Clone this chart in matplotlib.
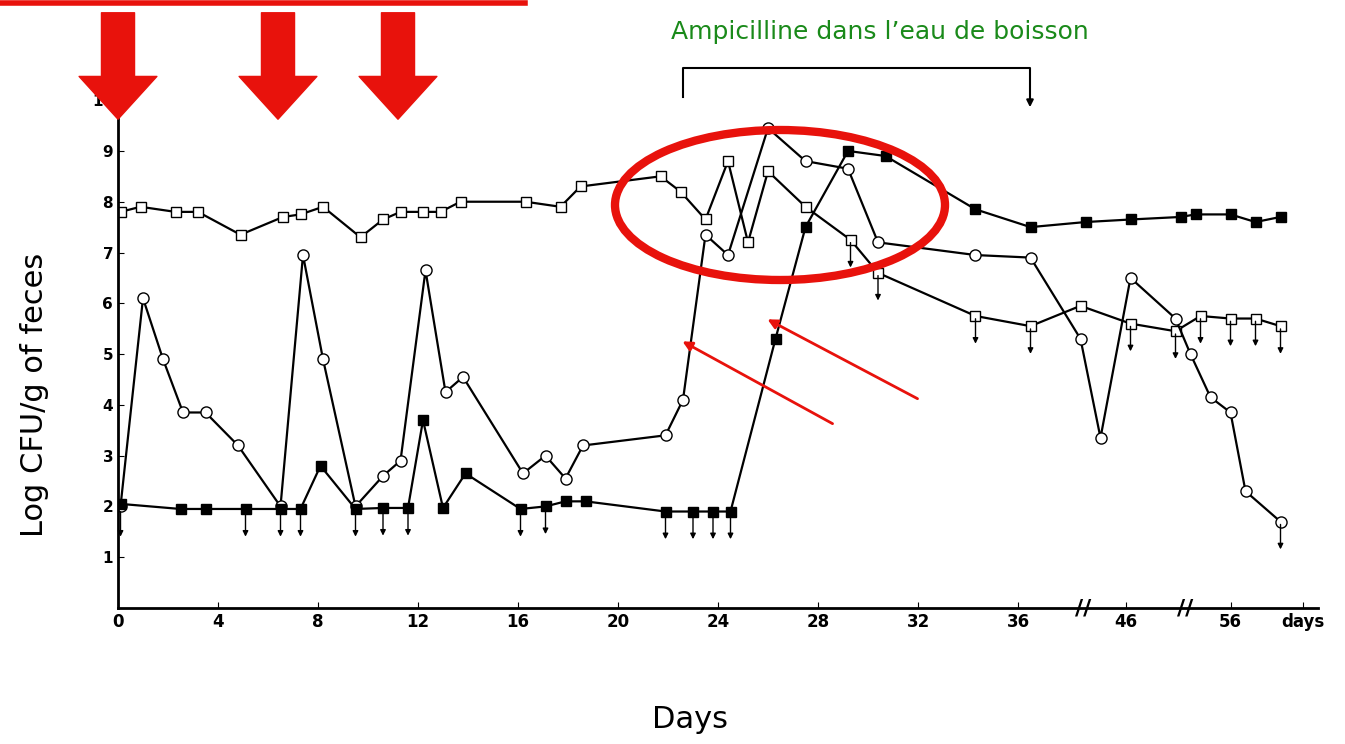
import matplotlib.pyplot as plt
from matplotlib.patches import Ellipse, FancyArrowPatch

# x values are axis positions (days up to 36, compressed scale after the breaks)
sq_x = [0.1, 0.9, 2.3, 3.2, 4.9, 6.6, 7.3, 8.2, 9.7, 10.6, 11.3, 12.2, 12.9, 13.7, 16.3, 17.7, 18.5, 21.7, 22.5, 23.5, 24.4, 25.2, 26.0, 27.5, 29.3, 30.4, 34.3, 36.5, 38.5, 40.5, 42.3, 43.3, 44.5, 45.5, 46.5]
sq_y = [7.8, 7.9, 7.8, 7.8, 7.35, 7.7, 7.75, 7.9, 7.3, 7.65, 7.8, 7.8, 7.8, 8.0, 8.0, 7.9, 8.3, 8.5, 8.2, 7.65, 8.8, 7.2, 8.6, 7.9, 7.25, 6.6, 5.75, 5.55, 5.95, 5.6, 5.45, 5.75, 5.7, 5.7, 5.55]
ci_x = [0.1, 1.0, 1.8, 2.6, 3.5, 4.8, 6.5, 7.4, 8.2, 9.5, 10.6, 11.3, 12.3, 13.1, 13.8, 16.2, 17.1, 17.9, 18.6, 21.9, 22.6, 23.5, 24.4, 26.0, 27.5, 29.2, 30.4, 34.3, 36.5, 38.5, 39.3, 40.5, 42.3, 42.9, 43.7, 44.5, 45.1, 46.5]
ci_y = [2.0, 6.1, 4.9, 3.85, 3.85, 3.2, 2.0, 6.95, 4.9, 2.0, 2.6, 2.9, 6.65, 4.25, 4.55, 2.65, 3.0, 2.55, 3.2, 3.4, 4.1, 7.35, 6.95, 9.45, 8.8, 8.65, 7.2, 6.95, 6.9, 5.3, 3.35, 6.5, 5.7, 5.0, 4.15, 3.85, 2.3, 1.7]
fs_x = [0.1, 2.5, 3.5, 5.1, 6.5, 7.3, 8.1, 9.5, 10.6, 11.6, 12.2, 13.0, 13.9, 16.1, 17.1, 17.9, 18.7, 21.9, 23.0, 23.8, 24.5, 26.3, 27.5, 29.2, 30.7, 34.3, 36.5, 38.7, 40.5, 42.5, 43.1, 44.5, 45.5, 46.5]
fs_y = [2.05, 1.95, 1.95, 1.95, 1.95, 1.95, 2.8, 1.95, 1.97, 1.97, 3.7, 1.97, 2.65, 1.95, 2.0, 2.1, 2.1, 1.9, 1.9, 1.9, 1.9, 5.3, 7.5, 9.0, 8.9, 7.85, 7.5, 7.6, 7.65, 7.7, 7.75, 7.75, 7.6, 7.7]
down_x = [0.1, 5.1, 6.5, 7.3, 9.5, 10.6, 11.6, 16.1, 17.1, 21.9, 23.0, 23.8, 24.5, 29.3, 30.4, 34.3, 36.5, 40.5, 42.3, 43.3, 44.5, 45.5, 46.5, 46.5]
down_y = [1.95, 1.95, 1.95, 1.95, 1.95, 1.97, 1.97, 1.95, 2.0, 1.9, 1.9, 1.9, 1.9, 7.25, 6.6, 5.75, 5.55, 5.6, 5.45, 5.75, 5.7, 5.7, 5.55, 1.7]
tick_pos = [0, 4, 8, 12, 16, 20, 24, 28, 32, 36, 40.3, 44.5, 47.4]
tick_lab = ['0', '4', '8', '12', '16', '20', '24', '28', '32', '36', '46', '56', 'days']

W, H = 1345, 744
fig = plt.figure(figsize=(13.45, 7.44), dpi=100)
ax = fig.add_axes([118 / W, (H - 608) / H, 1200 / W, 518 / H])
ax.set_xlim(0, 48)
ax.set_ylim(0, 10.2)

def P(x, y):
    return (x / W, 1 - y / H)

k = dict(color='black', lw=1.6)
ax.plot(sq_x, sq_y, marker='s', mfc='white', mec='black', ms=7, **k)
ax.plot(ci_x, ci_y, marker='o', mfc='white', mec='black', ms=8, **k)
ax.plot(fs_x, fs_y, marker='s', mfc='black', mec='black', ms=7, **k)
for x, y in zip(down_x, down_y):
    ax.annotate('', xy=(x, y - 0.6), xytext=(x, y),
                arrowprops=dict(arrowstyle='-|>', color='black', lw=1, mutation_scale=8))

for s in ['top', 'right']:
    ax.spines[s].set_visible(False)
ax.spines['left'].set_linewidth(2)
ax.spines['bottom'].set_linewidth(2)
ax.set_xticks(tick_pos)
ax.set_xticklabels(tick_lab, fontsize=12, fontweight='bold')
ax.set_yticks(range(1, 11))
ax.set_yticklabels([str(i) for i in range(1, 11)], fontsize=11, fontweight='bold')
ax.tick_params(direction='in', length=4)
# axis breaks
for xb in [38.6, 42.7]:
    ax.text(xb, 0, '//', ha='center', va='center', fontsize=16, fontweight='bold')

fig.text(35 / W, 1 - 395 / H, 'Log CFU/g of feces', rotation=90, ha='center', va='center', fontsize=22)
fig.text(690 / W, 1 - 720 / H, 'Days', ha='center', va='center', fontsize=22)
fig.text(880 / W, 1 - 32 / H, 'Ampicilline dans l\u2019eau de boisson', ha='center', va='center',
         fontsize=18, color='#1a8a1a')

# bracket
fig.lines.append(plt.Line2D([683 / W, 683 / W, 1030 / W, 1030 / W],
                            [1 - 97 / H, 1 - 68 / H, 1 - 68 / H, 1 - 100 / H],
                            color='black', lw=1.5, transform=fig.transFigure))
fig.patches.append(FancyArrowPatch(P(1030, 95), P(1030, 110), transform=fig.transFigure,
                                   arrowstyle='-|>', mutation_scale=10, color='black', lw=1.5))

# red annotations
fig.lines.append(plt.Line2D([0, 525 / W], [1 - 3 / H, 1 - 3 / H], color='#e8120c', lw=4,
                            transform=fig.transFigure))
for xa in [118, 278, 398]:
    fig.patches.append(FancyArrowPatch(P(xa, 10), P(xa, 122), transform=fig.transFigure,
                                       arrowstyle='simple,head_width=2.0,head_length=1.1,tail_width=0.85',
                                       mutation_scale=28, color='#e8120c'))
fig.patches.append(Ellipse(P(780, 205), 330 / W, 150 / H, transform=fig.transFigure,
                           fill=False, ec='#e8120c', lw=6))
for (x0, y0), (x1, y1) in [((835, 425), (680, 340)), ((920, 400), (765, 318))]:
    fig.patches.append(FancyArrowPatch(P(x0, y0), P(x1, y1), transform=fig.transFigure,
                                       arrowstyle='-|>', mutation_scale=14, color='#e8120c', lw=2))

fig.savefig('out.png', dpi=100, facecolor='white')
